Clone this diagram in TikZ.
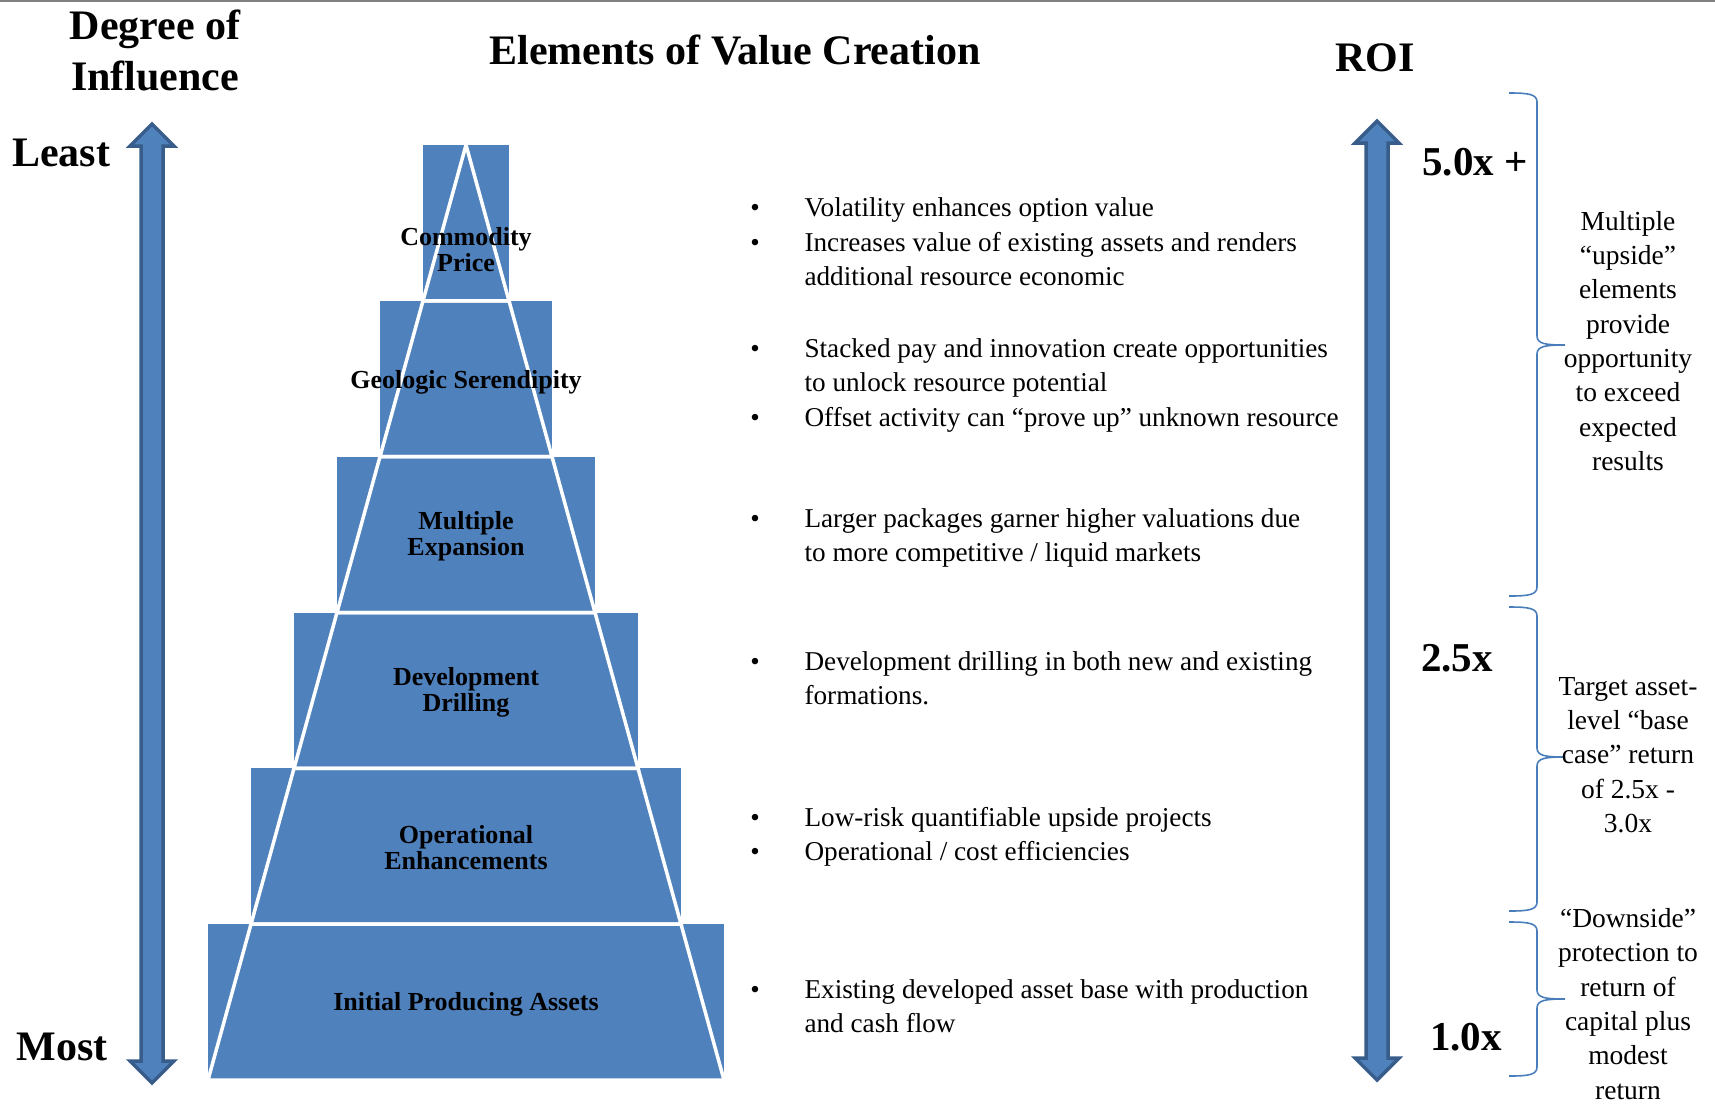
\documentclass[tikz,border=0pt]{standalone}
\usepackage{fontspec}
\setmainfont{Liberation Serif}
\definecolor{pyrblue}{RGB}{79,129,189}
\definecolor{pyredge}{RGB}{56,93,138}
\definecolor{bracecol}{RGB}{74,126,187}
\definecolor{rulegray}{RGB}{128,128,128}
\usetikzlibrary{positioning}

% two-headed vertical arrow: centre x, top tip y, bottom tip y
\newcommand{\dualarrow}[3]{%
  \draw[bigarrow] (#1,#2) -- (#1+22,#2+22) -- (#1+11,#2+22) -- (#1+11,#3-22)
    -- (#1+22,#3-22) -- (#1,#3) -- (#1-22,#3-22) -- (#1-11,#3-22)
    -- (#1-11,#2+22) -- (#1-22,#2+22) -- cycle;}
% right curly brace: top y, tip y, bottom y
\newcommand{\roibrace}[3]{%
  \draw[bracel] (1509,#1) .. controls (1528,#1) and (1537,#1+1) .. (1537,#1+9)
    -- (1537,#2-9) .. controls (1537,#2-1) and (1546,#2) .. (1565,#2)
    .. controls (1546,#2) and (1537,#2+1) .. (1537,#2+9)
    -- (1537,#3-9) .. controls (1537,#3-1) and (1528,#3) .. (1509,#3);}

\begin{document}
\begin{tikzpicture}[
  x=1pt, y=-1pt,
  headtxt/.style={font=\fontsize{42}{51}\selectfont\bfseries, align=center},
  lvltxt/.style={font=\fontsize{26}{26}\selectfont\bfseries, align=center},
  bultxt/.style={font=\fontsize{27.2}{34.4}\selectfont, align=left, anchor=base west},
  bulmark/.style={font=\fontsize{27}{34.4}\selectfont, anchor=base},
  roitxt/.style={font=\fontsize{41}{41}\selectfont\bfseries},
  notetxt/.style={font=\fontsize{27.5}{34.3}\selectfont, align=center},
  bigarrow/.style={fill=pyrblue, draw=pyredge, line width=3.5, line join=miter},
  bracel/.style={draw=bracecol, line width=1.6}
]
\useasboundingbox (0,0) rectangle (1715,1104);
\draw[rulegray, line width=2.5] (0,1) -- (1715,1);

% headings
\node[headtxt] (degree) at (155,50) {Degree of\\Influence};
\node[headtxt] (elements) at (735,50) {Elements of Value Creation};
\node[headtxt] (roi) at (1375,58) {ROI};
\node[headtxt] (least) at (61,153) {Least};
\node[headtxt] (most) at (62,1047) {Most};

% arrows
\dualarrow{152}{124}{1083}
\dualarrow{1377}{121}{1080}

% pyramid: blocks first, white outline on top
\foreach \k in {1,...,6} {
  \pgfmathsetmacro{\ytop}{145+155.83*(\k-1)}
  \pgfmathsetmacro{\ybot}{145+155.83*\k}
  \fill[pyrblue] (466-43*\k,\ytop) rectangle (466+43*\k,\ybot);
}
\foreach \k in {1,...,6} {
  \pgfmathsetmacro{\ytop}{145+155.83*(\k-1)}
  \pgfmathsetmacro{\ybot}{145+155.83*\k}
  \draw[white, line width=3.5, line join=miter]
    (466-43*\k+43,\ytop) -- (466+43*\k-43,\ytop) -- (466+43*\k,\ybot)
    -- (466-43*\k,\ybot) -- cycle;
}

\node[lvltxt] (commodity) at (466,250) {Commodity\\Price};
\node[lvltxt] (geologic) at (466,382) {Geologic Serendipity};
\node[lvltxt] (multiple) at (466,536) {Multiple\\Expansion};
\node[lvltxt] (drilling) at (466,692) {Development\\Drilling};
\node[lvltxt] (operational) at (466,848) {Operational\\Enhancements};
\node[lvltxt] (initial) at (466,1004) {Initial Producing Assets};

% bullet points (base = last line of each text)
\node[bulmark] (m1a) at (755,216) {•};
\node[bultxt] (b1a) at (801,216) {Volatility enhances option value};
\node[bulmark] (m1b) at (755,251) {•};
\node[bultxt] (b1b) at (801,285.4) {Increases value of existing assets and renders\\additional resource economic};
\node[bulmark] (m2a) at (755,357) {•};
\node[bultxt] (b2a) at (801,391.4) {Stacked pay and innovation create opportunities\\to unlock resource potential};
\node[bulmark] (m2b) at (755,426) {•};
\node[bultxt] (b2b) at (801,426) {Offset activity can “prove up” unknown resource};
\node[bulmark] (m3) at (755,527) {•};
\node[bultxt] (b3) at (801,561.4) {Larger packages garner higher valuations due\\to more competitive / liquid markets};
\node[bulmark] (m4) at (755,670) {•};
\node[bultxt] (b4) at (801,704.4) {Development drilling in both new and existing\\formations.};
\node[bulmark] (m5a) at (755,826) {•};
\node[bultxt] (b5a) at (801,826) {Low-risk quantifiable upside projects};
\node[bulmark] (m5b) at (755,860) {•};
\node[bultxt] (b5b) at (801,860) {Operational / cost efficiencies};
\node[bulmark] (m6) at (755,998) {•};
\node[bultxt] (b6) at (801,1032.4) {Existing developed asset base with production\\and cash flow};

% ROI scale
\node[roitxt] (roi5) at (1475,162) {5.0x +};
\node[roitxt] (roi25) at (1457,658) {2.5x};
\node[roitxt] (roi1) at (1466,1037) {1.0x};

\roibrace{93}{345}{596}
\roibrace{607}{757}{911}
\roibrace{922}{999}{1076}

\node[notetxt] (upside) at (1628,341) {Multiple\\“upside”\\elements\\provide\\opportunity\\to exceed\\expected\\results};
\node[notetxt] (basecase) at (1628,755) {Target asset-\\level “base\\case” return\\of 2.5x -\\3.0x};
\node[notetxt] (downside) at (1628,1004) {“Downside”\\protection to\\return of\\capital plus\\modest\\return};
\end{tikzpicture}
\end{document}
